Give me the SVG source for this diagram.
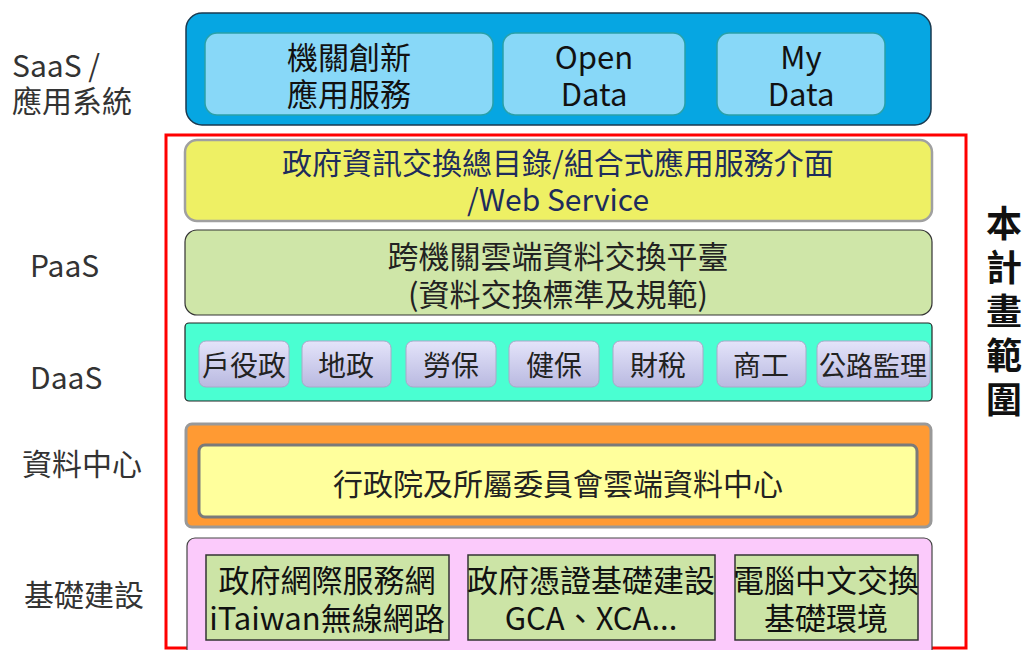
<svg xmlns="http://www.w3.org/2000/svg" width="1027" height="650" viewBox="0 0 1027 650">
<defs>
<linearGradient id="btn" x1="0" y1="0" x2="0" y2="1">
<stop offset="0" stop-color="#e4e4fa"/>
<stop offset="1" stop-color="#b9b9e0"/>
</linearGradient>
<style>
.t{font-family:"Noto Sans CJK TC","Noto Sans",sans-serif;text-anchor:middle;dominant-baseline:central}
.lbl{font-family:"Noto Sans CJK TC","Noto Sans",sans-serif;font-size:30px;fill:#333}
.inner{fill:#88d8f8;stroke:#2aa0a8;stroke-width:1.5}
.btn{fill:url(#btn);stroke:#a8a8c8;stroke-width:1}
.base{fill:#cce4a6;stroke:#333;stroke-width:1.5}
</style>
</defs>
<rect width="1027" height="650" fill="#fff"/>
<g id="labels">
<text class="lbl" x="12" y="77">SaaS /</text>
<text class="lbl" x="12" y="112">應用系統</text>
<text class="lbl" x="30" y="277" font-size="29">PaaS</text>
<text class="lbl" x="30" y="389" font-size="29">DaaS</text>
<text class="lbl" x="22" y="475">資料中心</text>
<text class="lbl" x="24" y="606">基礎建設</text>
</g>
<g id="scope">
<rect x="166" y="135" width="800" height="513" fill="none" stroke="#ff0000" stroke-width="3"/>
<text x="1004" y="205" writing-mode="tb" font-family="'Noto Sans CJK TC',sans-serif" font-size="36" font-weight="bold" letter-spacing="8" fill="#111">本計畫範圍</text>
</g>
<g id="saas">
<rect x="186" y="13" width="745" height="112" rx="16" fill="#06a6e2" stroke="#1a3a50" stroke-width="1.5"/>
<rect class="inner" x="205" y="33" width="288" height="82" rx="12"/>
<rect class="inner" x="503" y="33" width="182" height="82" rx="12"/>
<rect class="inner" x="717" y="33" width="168" height="82" rx="12"/>
<g class="t" font-size="31" fill="#111">
<text x="349" y="55">機關創新</text>
<text x="349" y="92">應用服務</text>
<text x="594" y="55">Open</text>
<text x="594" y="92">Data</text>
<text x="801" y="55">My</text>
<text x="801" y="92">Data</text>
</g>
</g>
<g id="catalog">
<rect x="185" y="140" width="747" height="81" rx="12" fill="#eef064" stroke="#a0a0a0" stroke-width="2.5"/>
<g class="t" font-size="30" fill="#1e2c5c">
<text x="558" y="161">政府資訊交換總目錄/組合式應用服務介面</text>
<text x="558" y="198">/Web Service</text>
</g>
</g>
<g id="platform">
<rect x="185" y="230" width="747" height="85" rx="12" fill="#cfe6a8" stroke="#333" stroke-width="1.2"/>
<g class="t" font-size="31" fill="#222">
<text x="558" y="254">跨機關雲端資料交換平臺</text>
<text x="558" y="292">(資料交換標準及規範)</text>
</g>
</g>
<g id="daas">
<rect x="185" y="323" width="747" height="78" rx="4" fill="#4affd2" stroke="#222" stroke-width="1.2"/>
<rect class="btn" x="199" y="341" width="90" height="46" rx="7"/>
<rect class="btn" x="302" y="341" width="89" height="46" rx="7"/>
<rect class="btn" x="406" y="341" width="90" height="46" rx="7"/>
<rect class="btn" x="509" y="341" width="90" height="46" rx="7"/>
<rect class="btn" x="613" y="341" width="90" height="46" rx="7"/>
<rect class="btn" x="717" y="341" width="89" height="46" rx="7"/>
<rect class="btn" x="817" y="341" width="113" height="46" rx="7"/>
<g class="t" font-size="28" fill="#222">
<text x="244" y="364">戶役政</text>
<text x="346" y="364">地政</text>
<text x="451" y="364">勞保</text>
<text x="554" y="364">健保</text>
<text x="658" y="364">財稅</text>
<text x="761" y="364">商工</text>
<text x="873" y="364" font-size="27">公路監理</text>
</g>
</g>
<g id="datacenter">
<rect x="186" y="424" width="745" height="103" rx="6" fill="#ff9a33" stroke="#999" stroke-width="3"/>
<rect x="199" y="445" width="718" height="72" rx="6" fill="#ffff9c" stroke="#7a7a7a" stroke-width="3"/>
<text class="t" x="558" y="482" font-size="30" fill="#222">行政院及所屬委員會雲端資料中心</text>
</g>
<g id="infra">
<rect x="187" y="538" width="745" height="120" rx="8" fill="#fbcafb" stroke="#444" stroke-width="1.2"/>
<rect class="base" x="206" y="555" width="243" height="85"/>
<rect class="base" x="468" y="555" width="247" height="85"/>
<rect class="base" x="735" y="555" width="183" height="85"/>
<g class="t" font-size="31" fill="#111">
<text x="327" y="578">政府網際服務網</text>
<text x="327" y="616">iTaiwan無線網路</text>
<text x="591" y="578">政府憑證基礎建設</text>
<text x="591" y="616">GCA、XCA...</text>
<text x="826" y="578">電腦中文交換</text>
<text x="826" y="616">基礎環境</text>
</g>
</g>
</svg>
